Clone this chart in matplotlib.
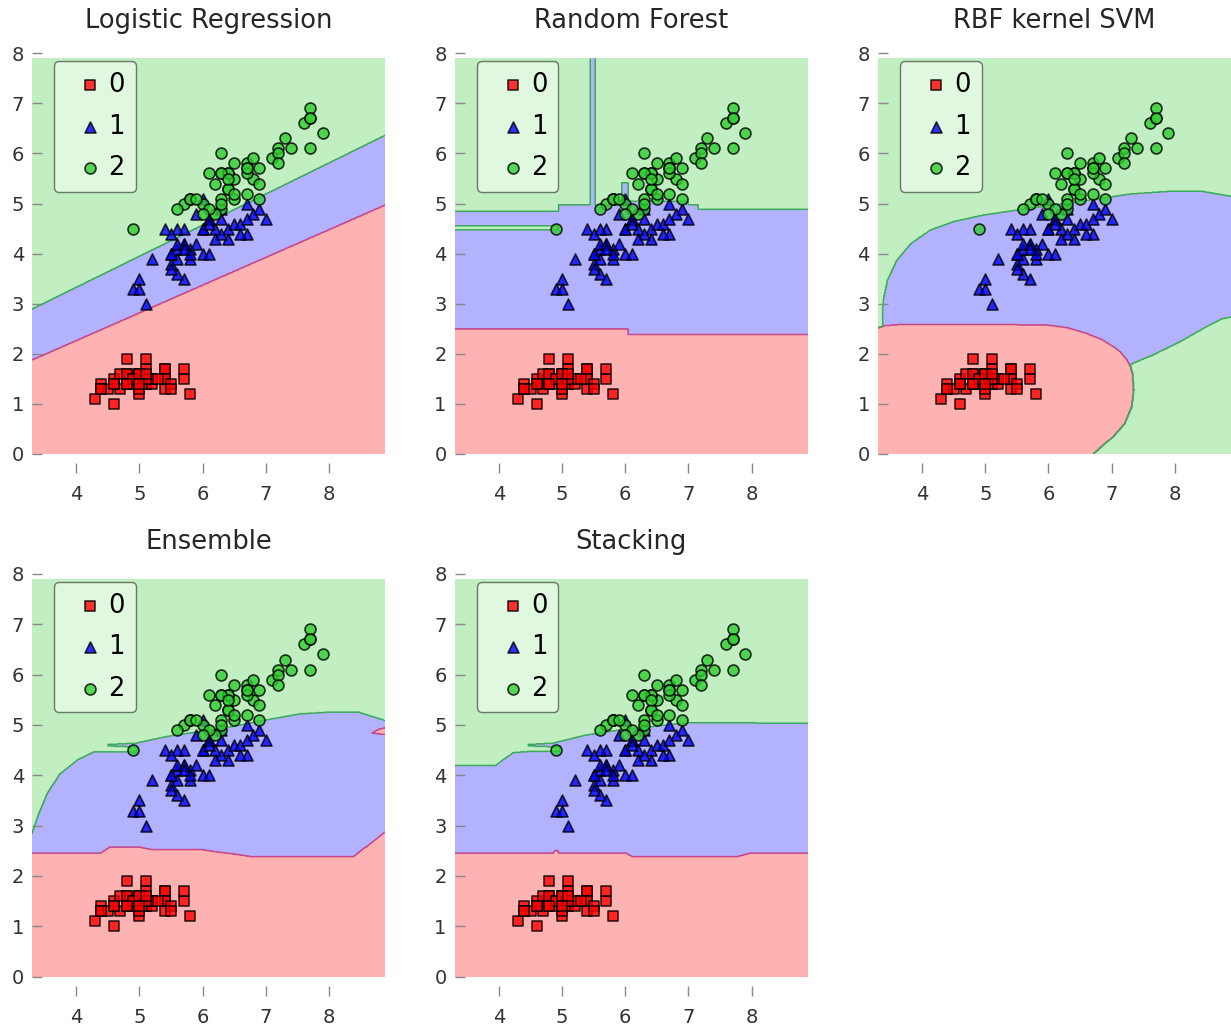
import numpy as np
import matplotlib
matplotlib.use("Agg")
import matplotlib.pyplot as plt
from matplotlib.path import Path

# iris: sepal length (x) and petal length (y)
setosa_sl = [5.1, 4.9, 4.7, 4.6, 5.0, 5.4, 4.6, 5.0, 4.4, 4.9, 5.4, 4.8, 4.8, 4.3, 5.8, 5.7, 5.4,
             5.1, 5.7, 5.1, 5.4, 5.1, 4.6, 5.1, 4.8, 5.0, 5.0, 5.2, 5.2, 4.7, 4.8, 5.4, 5.2, 5.5,
             4.9, 5.0, 5.5, 4.9, 4.4, 5.1, 5.0, 4.5, 4.4, 5.0, 5.1, 4.8, 5.1, 4.6, 5.3, 5.0]
setosa_pl = [1.4, 1.4, 1.3, 1.5, 1.4, 1.7, 1.4, 1.5, 1.4, 1.5, 1.5, 1.6, 1.4, 1.1, 1.2, 1.5, 1.3,
             1.4, 1.7, 1.5, 1.7, 1.5, 1.0, 1.7, 1.9, 1.6, 1.6, 1.5, 1.4, 1.6, 1.6, 1.5, 1.5, 1.4,
             1.5, 1.2, 1.3, 1.5, 1.3, 1.5, 1.3, 1.3, 1.3, 1.6, 1.9, 1.4, 1.6, 1.4, 1.5, 1.4]
versicolor_sl = [7.0, 6.4, 6.9, 5.5, 6.5, 5.7, 6.3, 4.9, 6.6, 5.2, 5.0, 5.9, 6.0, 6.1, 5.6, 6.7, 5.6,
                 5.8, 6.2, 5.6, 5.9, 6.1, 6.3, 6.1, 6.4, 6.6, 6.8, 6.7, 6.0, 5.7, 5.5, 5.5, 5.8, 6.0,
                 5.4, 6.0, 6.7, 6.3, 5.6, 5.5, 5.5, 6.1, 5.8, 5.0, 5.6, 5.7, 5.7, 6.2, 5.1, 5.7]
versicolor_pl = [4.7, 4.5, 4.9, 4.0, 4.6, 4.5, 4.7, 3.3, 4.6, 3.9, 3.5, 4.2, 4.0, 4.7, 3.6, 4.4, 4.5,
                 4.1, 4.5, 3.9, 4.8, 4.0, 4.9, 4.7, 4.3, 4.4, 4.8, 5.0, 4.5, 3.5, 3.8, 3.7, 3.9, 5.1,
                 4.5, 4.5, 4.7, 4.4, 4.1, 4.0, 4.4, 4.6, 4.0, 3.3, 4.2, 4.2, 4.2, 4.3, 3.0, 4.1]
virginica_sl = [6.3, 5.8, 7.1, 6.3, 6.5, 7.6, 4.9, 7.3, 6.7, 7.2, 6.5, 6.4, 6.8, 5.7, 5.8, 6.4, 6.5,
                7.7, 7.7, 6.0, 6.9, 5.6, 7.7, 6.3, 6.7, 7.2, 6.2, 6.1, 6.4, 7.2, 7.4, 7.9, 6.4, 6.3,
                6.1, 7.7, 6.3, 6.4, 6.0, 6.9, 6.7, 6.9, 5.8, 6.8, 6.7, 6.7, 6.3, 6.5, 6.2, 5.9]
virginica_pl = [6.0, 5.1, 5.9, 5.6, 5.8, 6.6, 4.5, 6.3, 5.8, 6.1, 5.1, 5.3, 5.5, 5.0, 5.1, 5.3, 5.5,
                6.7, 6.9, 5.0, 5.7, 4.9, 6.7, 4.9, 5.7, 6.0, 4.8, 4.9, 5.6, 5.8, 6.1, 6.4, 5.6, 5.1,
                5.6, 6.1, 5.6, 5.5, 4.8, 5.4, 5.6, 5.1, 5.1, 5.9, 5.7, 5.2, 5.0, 5.2, 5.4, 5.1]

class_x = [setosa_sl, versicolor_sl, virginica_sl]
class_y = [setosa_pl, versicolor_pl, virginica_pl]
class_names = ["0", "1", "2"]
markers = ["s", "^", "o"]
colors = ["red", "blue", "limegreen"]

titles = ["Logistic Regression", "Random Forest", "RBF kernel SVM", "Ensemble", "Stacking"]

# decision regions, painted in order over a class-2 background
lr_blue = [(3.2, -0.1), (9.0, -0.1), (9.0, 6.43), (3.2, 2.83)]
lr_red = [(3.2, -0.1), (9.0, -0.1), (9.0, 5.03), (3.2, 1.82)]

rf_blue = [(3.2, -0.1), (9.0, -0.1), (9.0, 8.0), (3.2, 8.0)]
rf_green_left = [(3.2, 4.84), (4.94, 4.84), (4.94, 4.97), (5.44, 4.97), (5.44, 8.0), (3.2, 8.0)]
rf_green_strip = [(3.2, 4.47), (4.93, 4.47), (4.93, 4.55), (3.2, 4.55)]
rf_green_right = [(5.52, 8.0), (5.52, 4.96), (5.94, 4.96), (5.94, 5.41), (6.04, 5.41), (6.04, 5.04),
                  (6.99, 5.04), (6.99, 4.97), (7.15, 4.97), (7.15, 4.88), (9.0, 4.88), (9.0, 8.0)]
rf_red = [(3.2, -0.1), (3.2, 2.49), (6.04, 2.49), (6.04, 2.38), (9.0, 2.38), (9.0, -0.1)]

svm_blue = [(3.37, 1.5), (3.37, 2.8), (3.39, 3.1), (3.45, 3.47), (3.6, 3.87), (3.82, 4.2),
            (4.13, 4.47), (4.5, 4.64), (4.97, 4.77), (5.5, 4.87), (6.08, 4.97), (6.71, 5.08),
            (7.29, 5.19), (7.87, 5.24), (8.45, 5.24), (9.0, 5.12), (9.0, 2.76), (8.75, 2.7),
            (8.5, 2.54), (8.08, 2.24), (7.66, 1.98), (7.45, 1.87), (7.34, 1.81), (7.0, 1.5)]
svm_red = [(3.2, -0.1), (3.2, 2.5), (3.3, 2.52), (3.4, 2.56), (3.6, 2.58), (5.5, 2.58), (6.0, 2.57),
           (6.3, 2.52), (6.6, 2.41), (6.85, 2.28), (7.03, 2.14), (7.15, 2.02), (7.24, 1.88),
           (7.3, 1.74), (7.33, 1.61), (7.35, 1.28), (7.32, 0.95), (7.21, 0.61), (7.03, 0.35),
           (6.87, 0.18), (6.71, 0.0), (6.65, -0.1)]

ens_blue = [(3.2, 2.0), (3.2, 2.6), (3.3, 2.85), (3.41, 3.25), (3.54, 3.64), (3.75, 4.04),
            (4.01, 4.3), (4.27, 4.46), (4.95, 4.47), (4.97, 4.56), (4.5, 4.585), (4.5, 4.61),
            (4.95, 4.64), (5.43, 4.77), (5.96, 4.87), (6.48, 4.97), (7.01, 5.10), (7.54, 5.22),
            (8.06, 5.26), (8.48, 5.25), (8.86, 5.10), (9.0, 5.0), (9.0, 2.0)]
ens_red = [(3.2, -0.1), (3.2, 2.45), (4.38, 2.45), (4.54, 2.58), (5.01, 2.57), (5.17, 2.53),
           (5.96, 2.53), (6.22, 2.48), (6.48, 2.44), (6.8, 2.38), (8.38, 2.38), (8.59, 2.58),
           (8.86, 2.85), (9.0, 2.95), (9.0, -0.1)]
ens_red_patch = [(8.68, 4.84), (8.8, 4.92), (9.0, 4.97), (9.0, 4.8), (8.8, 4.82)]

stk_blue = [(3.2, 2.0), (3.2, 4.19), (3.94, 4.19), (4.02, 4.27), (4.23, 4.45), (4.44, 4.47),
            (4.95, 4.48), (4.97, 4.56), (4.46, 4.585), (4.46, 4.61), (4.86, 4.64), (5.38, 4.8),
            (5.91, 4.9), (6.44, 4.97), (6.86, 5.03), (7.12, 5.05), (9.0, 5.03), (9.0, 2.0)]
stk_red = [(3.2, -0.1), (3.2, 2.45), (4.86, 2.45), (4.88, 2.5), (4.93, 2.5), (4.95, 2.45),
           (6.02, 2.45), (6.12, 2.38), (7.75, 2.38), (7.96, 2.45), (9.0, 2.45), (9.0, -0.1)]

regions = [
    [(1, lr_blue), (0, lr_red)],
    [(1, rf_blue), (2, rf_green_left), (2, rf_green_strip), (2, rf_green_right), (0, rf_red)],
    [(1, svm_blue), (0, svm_red)],
    [(1, ens_blue), (0, ens_red), (0, ens_red_patch)],
    [(1, stk_blue), (0, stk_red)],
]

# grid like mlxtend's plot_decision_regions
xx, yy = np.meshgrid(np.arange(3.3, 8.9, 0.01), np.arange(0.0, 7.9, 0.01))
pts = np.column_stack([xx.ravel(), yy.ravel()])

fig = plt.figure(figsize=(12.31, 10.31), dpi=100)
lefts = [0.026, 0.3694, 0.7132]
rows = [(0.5597, 0.3886), (0.0527, 0.3906)]

for i, (title, polys) in enumerate(zip(titles, regions)):
    b, h = rows[i // 3]
    ax = fig.add_axes([lefts[i % 3], b, 0.2868, h])

    Z = np.full(xx.shape, 2)
    for lab, verts in polys:
        inside = Path(np.array(verts)).contains_points(pts).reshape(xx.shape)
        Z[inside] = lab

    ax.contourf(xx, yy, Z, levels=[-0.5, 0.5, 1.5, 2.5], colors=colors, alpha=0.3)
    ax.contour(xx, yy, Z, levels=[0.5, 1.5], colors=["#c8488a", "#3faa5c"], linewidths=1.1)

    for cx, cy, m, c, name in zip(class_x, class_y, markers, colors, class_names):
        ax.scatter(cx, cy, s=62, marker=m, c=c, alpha=0.8, edgecolors="black",
                   linewidths=1.2, label=name, zorder=3)

    ax.set_xlim(xx.min(), xx.max())
    ax.set_ylim(0, 8)
    ax.set_xticks([4, 5, 6, 7, 8])
    ax.set_yticks(range(9))
    for sp in ax.spines.values():
        sp.set_visible(False)
    ax.spines["bottom"].set_position(("outward", 13.7))
    ax.tick_params(axis="x", direction="in", length=7, width=1, color="#888888",
                   labelcolor="#333333", labelsize=14, pad=8.6, top=False)
    ax.tick_params(axis="y", direction="in", length=7, width=1, color="#888888",
                   labelcolor="#333333", labelsize=14, pad=5.8, right=False)
    ax.set_title(title, fontsize=18.5, color="#262626", pad=18)

    ax.legend(loc="upper left", bbox_to_anchor=(0.062, 0.98), borderaxespad=0,
              scatterpoints=1, fontsize=18.5, fancybox=True, framealpha=0.5,
              edgecolor="black", facecolor="white", borderpad=0.42, markerscale=1.0,
              handlelength=2.0, handletextpad=-0.3, labelspacing=0.6)

fig.savefig("out.png", dpi=100)
